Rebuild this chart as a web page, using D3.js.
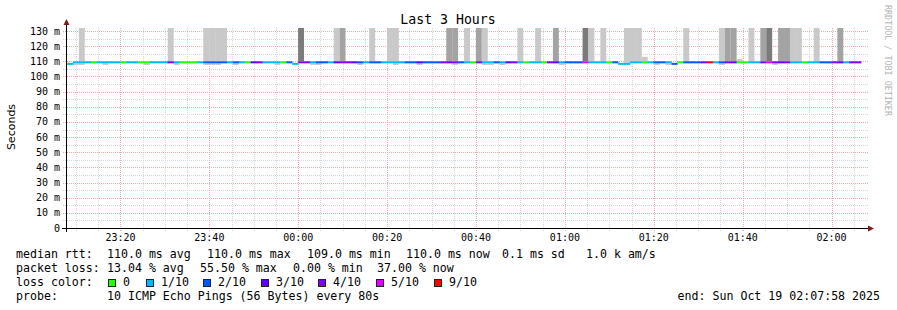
<!DOCTYPE html>
<html>
<head>
<meta charset="utf-8">
<script src="https://cdn.jsdelivr.net/npm/d3@7"></script>
<style>
  body { margin: 0; background: #fff; }
  text { font-family: "DejaVu Sans Mono", monospace; fill: #000; }
</style>
</head>
<body>
<script>
const width = 897;
const height = 310;

// 80 s steps over the last 3 hours
const startTime = new Date(2025, 9, 18, 23, 7, 58);
const endTime = new Date(2025, 9, 19, 2, 7, 58);
const stepMs = 80000;

// lost pings (out of 10) per step
const loss = [
  1, 1, 1, 1, 0, 1, 1, 1, 1, 0, 1, 1, 0, 0, 1, 1, 1, 4, 1, 0,
  0, 0, 1, 2, 2, 2, 2, 1, 2, 1, 0, 3, 4, 1, 1, 1, 0, 2, 1, 4,
  4, 1, 2, 2, 1, 3, 4, 4, 3, 2, 1, 2, 2, 1, 1, 1, 1, 2, 2, 3,
  2, 2, 2, 4, 3, 4, 2, 1, 0, 4, 1, 1, 2, 1, 3, 4, 1, 0, 1, 1,
  0, 4, 3, 1, 2, 2, 2, 5, 1, 1, 1, 0, 2, 1, 1, 1, 1, 0, 1, 2,
  2, 1, 2, 0, 2, 2, 2, 4, 9, 1, 2, 4, 3, 0, 0, 1, 1, 4, 5, 4,
  3, 4, 1, 1, 0, 1, 1, 2, 2, 4, 3, 1, 4, 4
];

// median rtt per step (ms)
const median = loss.map(() => 110);
const medianLow = [0, 38, 93, 94, 102]; // steps where the median was 109 ms
medianLow.forEach((i) => (median[i] = 109));

// smoke above the median: step, number of pings in the band, top of band (ms)
const smokeSteps = [2, 17, 23, 24, 25, 26, 39, 45, 46, 51, 54, 55, 64, 65, 67, 69, 70, 76, 79, 82,
  87, 88, 90, 94, 95, 96, 97, 104, 110, 111, 112, 113, 115, 117, 118, 120, 121, 122, 123, 126, 130];
const smokePings = [1, 1, 1, 1, 1, 1, 3, 1, 2, 1, 1, 1, 2, 2, 1, 2, 1, 1, 1, 2,
  3, 1, 1, 1, 1, 1, 1, 1, 1, 2, 2, 1, 1, 2, 3, 2, 2, 1, 1, 1, 2];
const smokeTop = [140, 140, 140, 140, 140, 140, 140, 140, 140, 140, 140, 140, 140, 140, 140, 140, 140, 140, 140, 140,
  140, 140, 140, 140, 140, 140, 113, 140, 140, 140, 140, 111.5, 140, 140, 140, 140, 140, 140, 140, 140, 140];

// smoke just below the median line
const lowSmokeSteps = [1, 2, 6, 13, 18, 23, 24, 25, 28, 35, 41, 42, 49, 55, 59, 65, 70, 71, 73, 83, 99, 101, 110, 119];
const lowSmokeMin = 107.6;

const yTicks = d3.range(0, 131, 10);
const lossLabels = ["0", "1/10", "2/10", "3/10", "4/10", "5/10", "9/10"];
const lossLevels = [0, 1, 2, 3, 4, 5, 9];
const lossColors = ["#26ff00", "#00b8ff", "#0059ff", "#5e00ff", "#7e00ff", "#dd00ff", "#ff0000"];

const statsRtt = ["110.0 ms avg", "110.0 ms max", "109.0 ms min", "110.0 ms now", "0.1 ms sd", "1.0 k am/s"];
const statsLoss = ["13.04 % avg", "55.50 % max", "0.00 % min", "37.00 % now"];

let svg = d3.select("body").append("svg").attr("width", width).attr("height", height);

let x = d3.scaleTime().domain([startTime, endTime]).range([67, 867]);
let y = d3.scaleLinear().domain([0, 132]).range([228, 28]);

function lossColor(l) {
  let idx = lossLevels.findIndex((v) => l <= v);
  return lossColors[idx < 0 ? lossColors.length - 1 : idx];
}
const stepTime = (i) => new Date(+startTime + i * stepMs);

// grid
let grid = svg.append("g");
let minorX = d3.timeMinute.every(5).range(startTime, endTime).filter((d) => d.getMinutes() % 20 !== 0);
let majorX = d3.timeMinute.every(20).range(startTime, endTime);
let minorY = d3.range(5, 132, 10);

grid.selectAll(".mx").data(minorX).join("line")
  .attr("x1", (d) => Math.round(x(d)) + 0.5).attr("x2", (d) => Math.round(x(d)) + 0.5)
  .attr("y1", 28).attr("y2", 231)
  .attr("stroke", "#d6d6d6").attr("stroke-dasharray", "1,1");
grid.selectAll(".my").data(minorY).join("line")
  .attr("x1", 63).attr("x2", 868)
  .attr("y1", (d) => Math.round(y(d)) + 0.5).attr("y2", (d) => Math.round(y(d)) + 0.5)
  .attr("stroke", "#d6d6d6").attr("stroke-dasharray", "1,1");
grid.selectAll(".Mx").data(majorX).join("line")
  .attr("x1", (d) => Math.round(x(d)) + 0.5).attr("x2", (d) => Math.round(x(d)) + 0.5)
  .attr("y1", 28).attr("y2", 231)
  .attr("stroke", "#f4aaaa").attr("stroke-dasharray", "1,1");
grid.selectAll(".My").data(yTicks.filter((d) => d > 0)).join("line")
  .attr("x1", 63).attr("x2", 868)
  .attr("y1", (d) => Math.round(y(d)) + 0.5).attr("y2", (d) => Math.round(y(d)) + 0.5)
  .attr("stroke", "#f4aaaa").attr("stroke-dasharray", "1,1");

// smoke
let smokeShade = d3.scaleOrdinal().domain([1, 2, 3]).range(["#c9c9c9", "#a3a3a3", "#7b7b7b"]);
let plot = svg.append("g");
plot.selectAll(".smoke").data(smokeSteps).join("rect")
  .attr("x", (d) => x(stepTime(d)))
  .attr("width", (d) => x(stepTime(d + 1)) - x(stepTime(d)))
  .attr("y", (d, i) => y(Math.min(smokeTop[i], 132)))
  .attr("height", (d, i) => y(median[d]) - y(Math.min(smokeTop[i], 132)))
  .attr("fill", (d, i) => smokeShade(smokePings[i]));
plot.selectAll(".lowsmoke").data(lowSmokeSteps).join("rect")
  .attr("x", (d) => x(stepTime(d)))
  .attr("width", (d) => x(stepTime(d + 1)) - x(stepTime(d)))
  .attr("y", (d) => y(median[d]) + 2)
  .attr("height", (d) => Math.max(0, y(lowSmokeMin) - y(median[d]) - 2))
  .attr("fill", "#c9c9c9");

// median line coloured by loss
plot.selectAll(".med").data(median).join("rect")
  .attr("x", (d, i) => x(stepTime(i)))
  .attr("width", (d, i) => x(stepTime(i + 1)) - x(stepTime(i)) + 0.3)
  .attr("y", (d) => y(d))
  .attr("height", 2)
  .attr("fill", (d, i) => lossColor(loss[i]));

// axes
svg.append("line").attr("x1", 62).attr("x2", 870).attr("y1", 228.5).attr("y2", 228.5).attr("stroke", "#000");
svg.append("line").attr("x1", 66.5).attr("x2", 66.5).attr("y1", 24).attr("y2", 232).attr("stroke", "#000");
svg.append("path").attr("d", "M63.5,25 L66.5,19 L69.5,25 Z").attr("fill", "#7f1a1a");
svg.append("path").attr("d", "M868,225.5 L874,228.5 L868,231.5 Z").attr("fill", "#7f1a1a");

svg.append("g").selectAll("text").data(yTicks).join("text")
  .attr("x", 60).attr("y", (d) => y(d) + 3.5)
  .attr("text-anchor", "end").attr("font-size", 10)
  .text((d) => (d === 0 ? "0" : d + " m"));

svg.append("g").selectAll("text").data(majorX).join("text")
  .attr("x", (d) => x(d)).attr("y", 241)
  .attr("text-anchor", "middle").attr("font-size", 10)
  .text(d3.timeFormat("%H:%M"));

// titles
svg.append("text").attr("x", 448).attr("y", 24).attr("text-anchor", "middle")
  .attr("font-size", 13.2).text("Last 3 Hours");
svg.append("text").attr("transform", "translate(15,127) rotate(-90)")
  .attr("text-anchor", "middle").attr("font-size", 11)
  .style("font-family", "'DejaVu Sans', sans-serif").text("Seconds");
svg.append("text").attr("transform", "translate(885,5) rotate(90)")
  .attr("font-size", 8.4).style("fill", "#b4b4b4").text("RRDTOOL / TOBI OETIKER");

// legend
let legend = svg.append("g").attr("font-size", 11.6).attr("xml:space", "preserve");
legend.append("text").attr("x", 16).attr("y", 258).text("median rtt:");
legend.selectAll(".rtt").data(statsRtt).join("text")
  .attr("x", (d, i) => [107, 207, 307, 406, 502, 586][i]).attr("y", 258).text((d) => d);
legend.append("text").attr("x", 16).attr("y", 272).text("packet loss:");
legend.selectAll(".pl").data(statsLoss).join("text")
  .attr("x", (d, i) => [107, 200, 293, 377][i]).attr("y", 272).text((d) => d);
legend.append("text").attr("x", 16).attr("y", 286).text("loss color:");
let boxX = [108, 146, 203, 261, 318, 376, 434];
legend.selectAll(".box").data(lossLabels).join("rect")
  .attr("x", (d, i) => boxX[i] + 0.5).attr("y", 279.5).attr("width", 7).attr("height", 7)
  .attr("fill", (d, i) => lossColors[i]).attr("stroke", "#222");
legend.selectAll(".lbl").data(lossLabels).join("text")
  .attr("x", (d, i) => boxX[i] + 15).attr("y", 286).text((d) => d);
legend.append("text").attr("x", 16).attr("y", 300).text("probe:");
legend.append("text").attr("x", 107).attr("y", 300).text("10 ICMP Echo Pings (56 Bytes) every 80s");
legend.append("text").attr("x", 880).attr("y", 300).attr("text-anchor", "end")
  .text("end: Sun Oct 19 02:07:58 2025");
</script>
</body>
</html>
